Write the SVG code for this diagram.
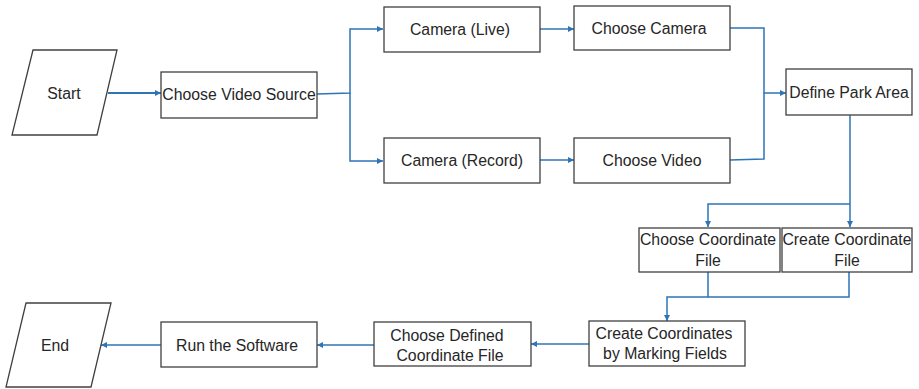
<svg xmlns="http://www.w3.org/2000/svg" width="919" height="389" viewBox="0 0 919 389">
<defs>
<style>
.box{fill:#ffffff;stroke:#404040;stroke-width:1.3}
.t{font-family:"Liberation Sans",Arial,sans-serif;font-size:15.8px;fill:#262626;text-anchor:middle}
.c{fill:none;stroke:#2E75B6;stroke-width:1.5}
.c2{fill:none;stroke:#2E75B6;stroke-width:2.2}
</style>
<marker id="ah" viewBox="0 0 10 10" refX="10" refY="5" markerWidth="6" markerHeight="6" markerUnits="userSpaceOnUse" orient="auto">
<path d="M0,0 L10,5 L0,10 z" fill="#2E75B6"/>
</marker>
</defs>
<rect width="919" height="389" fill="#ffffff"/>
<g id="connectors">
<path class="c2" d="M108,93 L161,93" marker-end="url(#ah)"/>
<path class="c" d="M317,94 L350,93 L350,29 L383,29" marker-end="url(#ah)"/>
<path class="c" d="M350,93 L350,161 L383,161" marker-end="url(#ah)"/>
<path class="c" d="M540,29 L574,29" marker-end="url(#ah)"/>
<path class="c" d="M540,160 L574,160" marker-end="url(#ah)"/>
<path class="c" d="M730,28 L764,28 L764,93 L786,93" marker-end="url(#ah)"/>
<path class="c" d="M730,160 L764,159 L764,93"/>
<path class="c" d="M850,115 L850,227" marker-end="url(#ah)"/>
<path class="c" d="M850,204 L708,204 L708,227" marker-end="url(#ah)"/>
<path class="c" d="M708,272 L708,297 L667,297 L667,321" marker-end="url(#ah)"/>
<path class="c" d="M849,272 L849,297 L708,297"/>
<path class="c" d="M589,344 L531,344" marker-end="url(#ah)"/>
<path class="c" d="M374,345 L317,345" marker-end="url(#ah)"/>
<path class="c" d="M161,345 L101,345" marker-end="url(#ah)"/>
</g>
<g id="start">
<polygon class="box" points="33,50 117,50 97,135 12,135"/>
<text class="t" x="64" y="99">Start</text>
</g>
<g id="choose-video-source">
<rect class="box" x="161" y="72" width="156" height="46"/>
<text class="t" x="239" y="100">Choose Video Source</text>
</g>
<g id="camera-live">
<rect class="box" x="384" y="7" width="156" height="45"/>
<text class="t" x="460" y="35">Camera (Live)</text>
</g>
<g id="camera-record">
<rect class="box" x="384" y="138" width="156" height="45"/>
<text class="t" x="462" y="166">Camera (Record)</text>
</g>
<g id="choose-camera">
<rect class="box" x="574" y="6" width="156" height="44"/>
<text class="t" x="649" y="34">Choose Camera</text>
</g>
<g id="choose-video">
<rect class="box" x="574" y="138" width="156" height="45"/>
<text class="t" x="652" y="166">Choose Video</text>
</g>
<g id="define-park-area">
<rect class="box" x="786" y="69" width="126" height="46"/>
<text class="t" x="849" y="98">Define Park Area</text>
</g>
<g id="choose-coordinate-file">
<rect class="box" x="639" y="228" width="141" height="44"/>
<text class="t" x="708" y="245">Choose Coordinate</text>
<text class="t" x="708" y="266">File</text>
</g>
<g id="create-coordinate-file">
<rect class="box" x="782" y="228" width="130" height="44"/>
<text class="t" x="847" y="245">Create Coordinate</text>
<text class="t" x="847" y="266">File</text>
</g>
<g id="create-coordinates">
<rect class="box" x="589" y="321" width="156" height="45"/>
<text class="t" x="664" y="339">Create Coordinates</text>
<text class="t" x="665" y="359">by Marking Fields</text>
</g>
<g id="choose-defined-coordinate-file">
<rect class="box" x="374" y="322" width="157" height="44"/>
<text class="t" x="447" y="341">Choose Defined</text>
<text class="t" x="450" y="361">Coordinate File</text>
</g>
<g id="run-the-software">
<rect class="box" x="161" y="322" width="156" height="45"/>
<text class="t" x="237" y="351">Run the Software</text>
</g>
<g id="end">
<polygon class="box" points="26,303 111,303 91,387 6,387"/>
<text class="t" x="55" y="351">End</text>
</g>
</svg>
